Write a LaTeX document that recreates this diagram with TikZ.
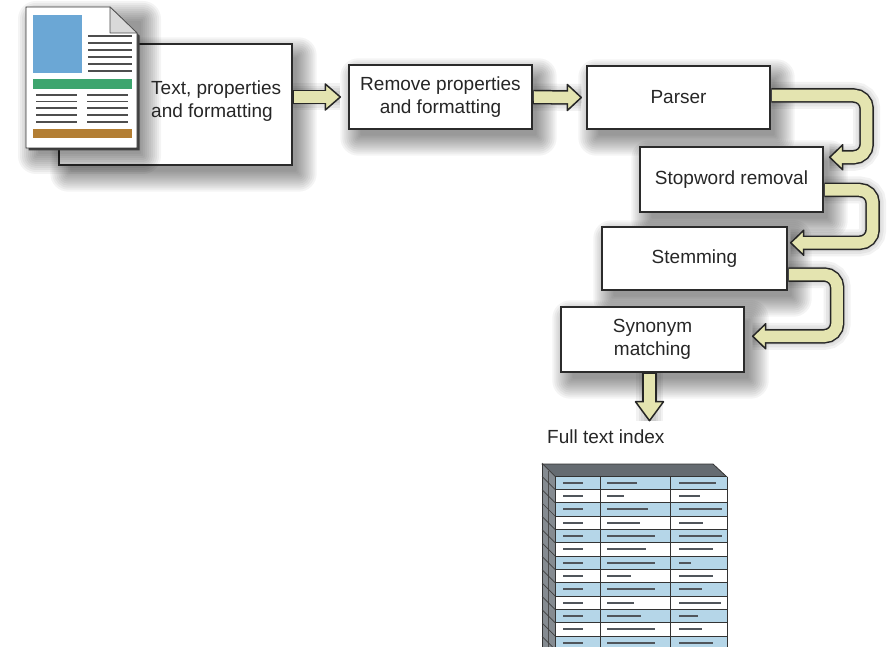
\documentclass[tikz,border=0pt]{standalone}
\usepackage{fontspec}
\setmainfont{Liberation Sans}
\usetikzlibrary{calc,backgrounds}
\definecolor{arrowfill}{HTML}{E4E4B0}
\definecolor{boxline}{HTML}{2B2B2B}
\definecolor{txt}{HTML}{262626}
\definecolor{rowblue}{HTML}{B5D6E8}
\definecolor{docblue}{HTML}{6BA7D5}
\definecolor{docgreen}{HTML}{3DA56E}
\definecolor{docbrown}{HTML}{B37E33}
\definecolor{doclines}{HTML}{4E4E4E}
\definecolor{topface}{HTML}{656B71}
\definecolor{sideface}{HTML}{858B91}
\definecolor{dashc}{HTML}{50555B}
\tikzset{
  procbox/.style={draw=boxline, line width=1.4pt, fill=white, inner sep=2pt, align=center,
    font=\fontsize{19}{22.5}\selectfont, text=txt},
  lbl/.style={font=\fontsize{19}{22.5}\selectfont, text=txt, inner sep=0pt},
  shaftout/.style={line width=14.5pt, draw=black!85, rounded corners=13pt},
  shaftin/.style={line width=11.5pt, draw=arrowfill, rounded corners=13pt},
  headst/.style={fill=arrowfill, draw=black!85, line width=1.5pt, line join=round},
  docline/.style={draw=doclines, line width=1.2pt},
  rowline/.style={draw=black!80, line width=0.8pt},
  dashst/.style={draw=dashc, line width=1.8pt},
  arrshadow/.style={draw=black, draw opacity=0.05, rounded corners=13pt, shift={(5,6)}}
}
\newcommand\boxshadow[2]{%
  \foreach \k in {-2,...,8} {
    \pgfmathsetmacro{\sd}{2*\k}
    \pgfmathsetmacro{\rc}{max(1,2*\k+2)}
    \fill[black, fill opacity=0.045, rounded corners=\rc pt] ($#1+(8-\sd,10+\sd)$) rectangle ($#2+(8+\sd,10-\sd)$);
  }}
\newcommand\arrowshadow[1]{%
  \foreach \w in {12,17,22,27} {
    \draw[arrshadow, line width=\w pt] #1;
  }}
\begin{document}
\begin{tikzpicture}[x=1pt, y=-1pt]
\useasboundingbox (0,0) rectangle (889,647);
\clip (0,0) rectangle (889,647);

% ---------- boxes ----------
\node[procbox, minimum width=233, minimum height=121] (box1) at (175.5,104.5) {};
\node[procbox, minimum width=183, minimum height=64] (box2) at (440.5,97) {Remove properties\\and formatting};
\node[procbox, minimum width=183, minimum height=63] (parser) at (678.5,97.5) {Parser};
\node[procbox, minimum width=183, minimum height=65] (stop) at (731.5,179.5) {Stopword removal};
\node[procbox, minimum width=185, minimum height=63] (stem) at (694.5,258.5) {Stemming};
\node[procbox, minimum width=183, minimum height=65] (syn) at (652.5,339.5) {Synonym\\matching};

\coordinate (docSW) at (26,148);
\coordinate (docNE) at (137,7);

% ---------- document icon ----------
\boxshadow{(docSW)}{(docNE)}
\fill[black!75, shift={(2.5,2.5)}] (26,7) -- (110,7) -- (137,33) -- (137,148) -- (26,148) -- cycle;
\draw[fill=white, draw=black!80, line width=0.8pt] (26,7) -- (110,7) -- (137,33) -- (137,148) -- (26,148) -- cycle;
\draw[fill=black!15, draw=black!70, line width=0.6pt, line join=round] (110,7) -- (110,33) -- (137,33) -- cycle;
\fill[docblue] (33,15) rectangle (82,73);
\foreach \y in {36,43,50,57,64,71} \draw[docline] (88,\y) -- (132,\y);
\fill[docgreen] (33,79) rectangle (132,89);
\foreach \y in {95,101.5,108,115,122} {\draw[docline] (36,\y) -- (77,\y); \draw[docline] (87,\y) -- (128,\y);}
\fill[docbrown] (33,129) rectangle (132,138);

\node[lbl, anchor=west, align=left] (t1) at (151,101) {Text, properties\\and formatting};

% ---------- straight arrows ----------
% box1 -> box2
\coordinate (aS) at ($(box1.east |- box2.west)+(0.6,0)$);
\coordinate (aT) at ($(box2.west)+(-8,0)$);
\coordinate (aB) at ($(aT)+(-15,0)$);
\draw[shaftout] (aS) -- ($(aB)+(1,0)$);
\draw[headst] (aT) -- ($(aB)+(0,-13)$) -- ($(aB)+(0,13)$) -- cycle;
\draw[shaftin] ($(aS)+(0.8,0)$) -- ($(aB)+(2.5,0)$);

% box2 -> parser
\coordinate (bS) at ($(box2.east)+(0.6,0)$);
\coordinate (bT) at ($(parser.west)+(-5,0)$);
\coordinate (bB) at ($(bT)+(-14,0)$);
\draw[shaftout] (bS) -- ($(bB)+(1,0)$);
\draw[headst] (bT) -- ($(bB)+(0,-13)$) -- ($(bB)+(0,13)$) -- cycle;
\draw[shaftin] ($(bS)+(0.8,0)$) -- ($(bB)+(2.5,0)$);

% ---------- curved arrows ----------
% parser -> stop
\coordinate (cS) at ($(parser.east)+(0.6,-2)$);
\coordinate (cR) at ($(parser.east)+(96,-2)$);
\coordinate (cT) at ($(stop.north east)+(6,11)$);
\coordinate (cB) at ($(cT)+(13,0)$);
\draw[shaftout] (cS) -- (cR) -- (cR |- cT) -- ($(cB)+(-1,0)$);
\draw[headst] (cT) -- ($(cB)+(0,-12.5)$) -- ($(cB)+(0,12.5)$) -- cycle;
\draw[shaftin] ($(cS)+(0.8,0)$) -- (cR) -- (cR |- cT) -- ($(cB)+(-2.5,0)$);

% stop -> stem
\coordinate (dS) at ($(stop.east)+(0.6,10.5)$);
\coordinate (dR) at ($(stop.east)+(49,10.5)$);
\coordinate (dT) at ($(stem.north east)+(3,16.5)$);
\coordinate (dB) at ($(dT)+(13,0)$);
\draw[shaftout] (dS) -- (dR) -- (dR |- dT) -- ($(dB)+(-1,0)$);
\draw[headst] (dT) -- ($(dB)+(0,-12.5)$) -- ($(dB)+(0,12.5)$) -- cycle;
\draw[shaftin] ($(dS)+(0.8,0)$) -- (dR) -- (dR |- dT) -- ($(dB)+(-2.5,0)$);

% stem -> syn
\coordinate (eS) at ($(stem.east)+(0.6,16)$);
\coordinate (eR) at ($(stem.east)+(49.5,16)$);
\coordinate (eT) at ($(syn.north east)+(8,30)$);
\coordinate (eB) at ($(eT)+(13,0)$);
\draw[shaftout] (eS) -- (eR) -- (eR |- eT) -- ($(eB)+(-1,0)$);
\draw[headst] (eT) -- ($(eB)+(0,-12.5)$) -- ($(eB)+(0,12.5)$) -- cycle;
\draw[shaftin] ($(eS)+(0.8,0)$) -- (eR) -- (eR |- eT) -- ($(eB)+(-2.5,0)$);

% syn -> index (down)
\coordinate (fS) at ($(syn.south)+(-3,0.6)$);
\coordinate (fT) at ($(syn.south)+(-3,48)$);
\coordinate (fB) at ($(fT)+(0,-19)$);
\draw[shaftout] (fS) -- ($(fB)+(0,-1)$);
\draw[headst] (fT) -- ($(fB)+(-14,0)$) -- ($(fB)+(14,0)$) -- cycle;
\draw[shaftin] ($(fS)+(0,0.8)$) -- ($(fB)+(0,2.5)$);

\node[lbl, anchor=base west] (idx) at (547,443) {Full text index};

% ---------- table icon ----------
\fill[topface] (542,464) -- (713,464) -- (727,477) -- (555,477) -- cycle;
\draw[black!80, line width=0.8pt, line join=round] (542,464) -- (713,464) -- (727,477) -- (555,477) -- cycle;
\fill[sideface] (542,464) -- (555,477) -- (555,660) -- (542,660) -- cycle;
\draw[black!80, line width=0.8pt] (542,464) -- (542,660);
\draw[black!70, line width=0.6pt] (548.5,471) -- (548.5,660);
\foreach \i in {0,...,13} {
  \pgfmathsetmacro{\yy}{476+13.333*\i}
  \draw[black!75, line width=0.7pt] (555,\yy) -- (542,\yy-13);
}
\foreach [count=\i from 0] \a/\b in {637/716,624/700,648/722,640/703,655/722,646/713,655/691,631/713,655/702,634/721,641/698,655/702,655/713} {
  \pgfmathsetmacro{\yy}{476+13.333*\i}
  \pgfmathsetmacro{\ym}{\yy+6.67}
  \pgfmathtruncatemacro{\rowpar}{mod(\i,2)}
  \ifnum\rowpar=0 \fill[rowblue] (555,\yy) rectangle (727,\yy+13.333);
  \else \fill[white] (555,\yy) rectangle (727,\yy+13.333); \fi
  \draw[rowline] (555,\yy) -- (727,\yy);
  \draw[dashst] (563,\ym) -- (583,\ym);
  \draw[dashst] (607,\ym) -- (\a,\ym);
  \draw[dashst] (679,\ym) -- (\b,\ym);
}
\draw[black!80, line width=0.8pt] (555,476) -- (555,660);
\draw[black!80, line width=0.8pt] (727,477) -- (727,660);
\draw[black!80, line width=0.8pt] (600,476) -- (600,660);
\draw[black!80, line width=0.8pt] (670,476) -- (670,660);

% ---------- background: page and shadows ----------
\begin{pgfonlayer}{background}
  \fill[white] (0,0) rectangle (889,647);
  \boxshadow{(box1.south west)}{(box1.north east)}
  \boxshadow{(box2.south west)}{(box2.north east)}
  \boxshadow{(parser.south west)}{(parser.north east)}
  \boxshadow{(stop.south west)}{(stop.north east)}
  \boxshadow{(stem.south west)}{(stem.north east)}
  \boxshadow{(syn.south west)}{(syn.north east)}
  \arrowshadow{(aS) -- (aT)}
  \arrowshadow{(bS) -- (bT)}
  \arrowshadow{(cS) -- (cR) -- (cR |- cT) -- (cT)}
  \arrowshadow{(dS) -- (dR) -- (dR |- dT) -- (dT)}
  \arrowshadow{(eS) -- (eR) -- (eR |- eT) -- (eT)}
  \arrowshadow{(fS) -- (fT)}
\end{pgfonlayer}
\end{tikzpicture}
\end{document}
